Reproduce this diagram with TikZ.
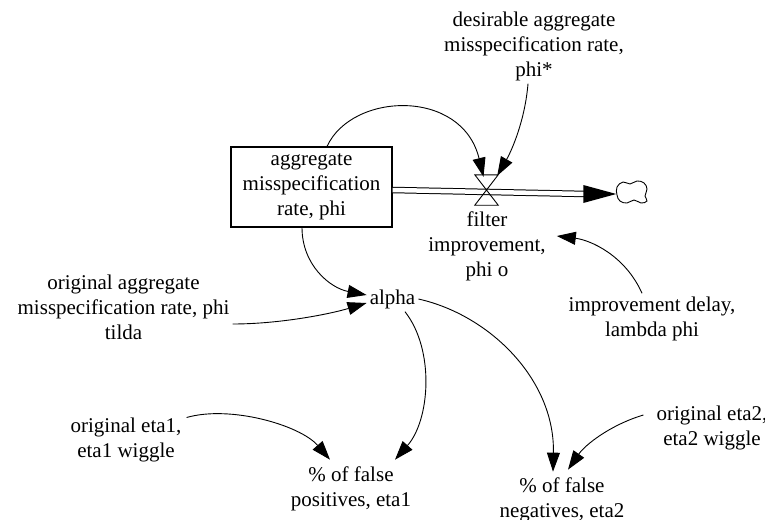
\documentclass[tikz,border=0pt]{standalone}
\usepackage{fontspec}
\setmainfont{Liberation Serif}
\usetikzlibrary{arrows.meta}
\begin{document}
\begin{tikzpicture}[x=1pt,y=-1pt,
  lbl/.style={align=center,inner sep=3pt,font=\fontsize{21}{25}\selectfont},
  stockbox/.style={lbl,draw,line width=1.1pt,minimum width=161pt,minimum height=80pt},
  link/.style={line width=0.9pt,-{Triangle[length=19pt,width=13pt]}},
  pipe/.style={line width=1pt,double=white,double distance=4.5pt},
  valveshape/.style={line width=0.9pt}]
\useasboundingbox (0,0) rectangle (765,519);

% stock, flow valve and sink
\node[stockbox] (box) at (311.5,187) {aggregate\\misspecification\\rate, phi};
\node[minimum width=23pt,minimum height=30pt,inner sep=0] (valve) at (486.5,190) {};
\node[minimum width=31pt,minimum height=23pt,inner sep=0] (cloud) at (632,192) {};

% auxiliaries and constants
\node[lbl] (phistar) at (534,46) {desirable aggregate\\misspecification rate,\\phi*};
\node[lbl] (filter) at (487,246) {filter\\improvement,\\phi o};
\node[lbl] (alpha) at (392.5,299) {alpha};
\node[lbl] (phitilda) at (123.5,307) {original aggregate\\misspecification rate, phi\\tilda};
\node[lbl] (delay) at (652,318.5) {improvement delay,\\lambda phi};
\node[lbl] (eta1w) at (126,439.5) {original eta1,\\eta1 wiggle};
\node[lbl] (eta2w) at (712,428) {original eta2,\\eta2 wiggle};
\node[lbl] (pos) at (351,489) {\% of false\\positives, eta1};
\node[lbl] (neg) at (562,500) {\% of false\\negatives, eta2};

% outflow pipe with its head
\draw[pipe] ([yshift=-3pt]box.east) -- ([xshift=-30pt,yshift=-2pt]cloud.west);
\fill ([yshift=-2pt]cloud.west) -- ++(-33,-9) -- ++(0,18) -- cycle;

% valve drawn over the pipe
\draw[valveshape] (valve.north west) -- (valve.north east) -- (valve.south west)
  -- (valve.south east) -- cycle;

% cloud outline
\draw[line width=0.9pt,shift={(632,192)}] plot[smooth cycle,tension=0.7] coordinates
  {(-15,-5) (-9,-10) (-2,-8) (5,-11) (12,-9) (15,-3) (13,4) (15,9) (9,11) (2,8) (-5,11) (-12,9) (-15,3)};

% information links
\draw[link] ([xshift=15.5pt]box.north) .. controls (352,92) and (462,88) .. ([xshift=-3pt,yshift=-2pt]valve.north);
\draw[link] ([xshift=-6pt]phistar.south) .. controls (525,120) and (512,150) .. ([xshift=-1pt,yshift=-1pt]valve.north east);
\draw[link] ([xshift=-9.5pt]box.south) .. controls (302,265) and (330,288) .. ([yshift=4pt]alpha.west);
\draw[link] ([yshift=-17pt]phitilda.east) .. controls (280,324) and (330,314) .. ([yshift=-4pt]alpha.west);
\draw[link] ([xshift=12.5pt]alpha.south) .. controls (435,350) and (430,420) .. ([xshift=44pt,yshift=4pt]pos.north);
\draw[link] (alpha.east) .. controls (490,315) and (555,380) .. ([xshift=-9pt,yshift=3pt]neg.north);
\draw[link] ([xshift=-10pt,yshift=13pt]eta2w.west) .. controls (610,425) and (585,445) .. ([xshift=6pt,yshift=5pt]neg.north);
\draw[link] ([xshift=2pt,yshift=22pt]eta1w.east) .. controls (230,405) and (300,425) .. ([xshift=-21pt,yshift=4pt]pos.north);
\draw[link] ([xshift=-10pt]delay.north) .. controls (625,255) and (590,240) .. ([xshift=8pt,yshift=10pt]filter.east);
\end{tikzpicture}
\end{document}
